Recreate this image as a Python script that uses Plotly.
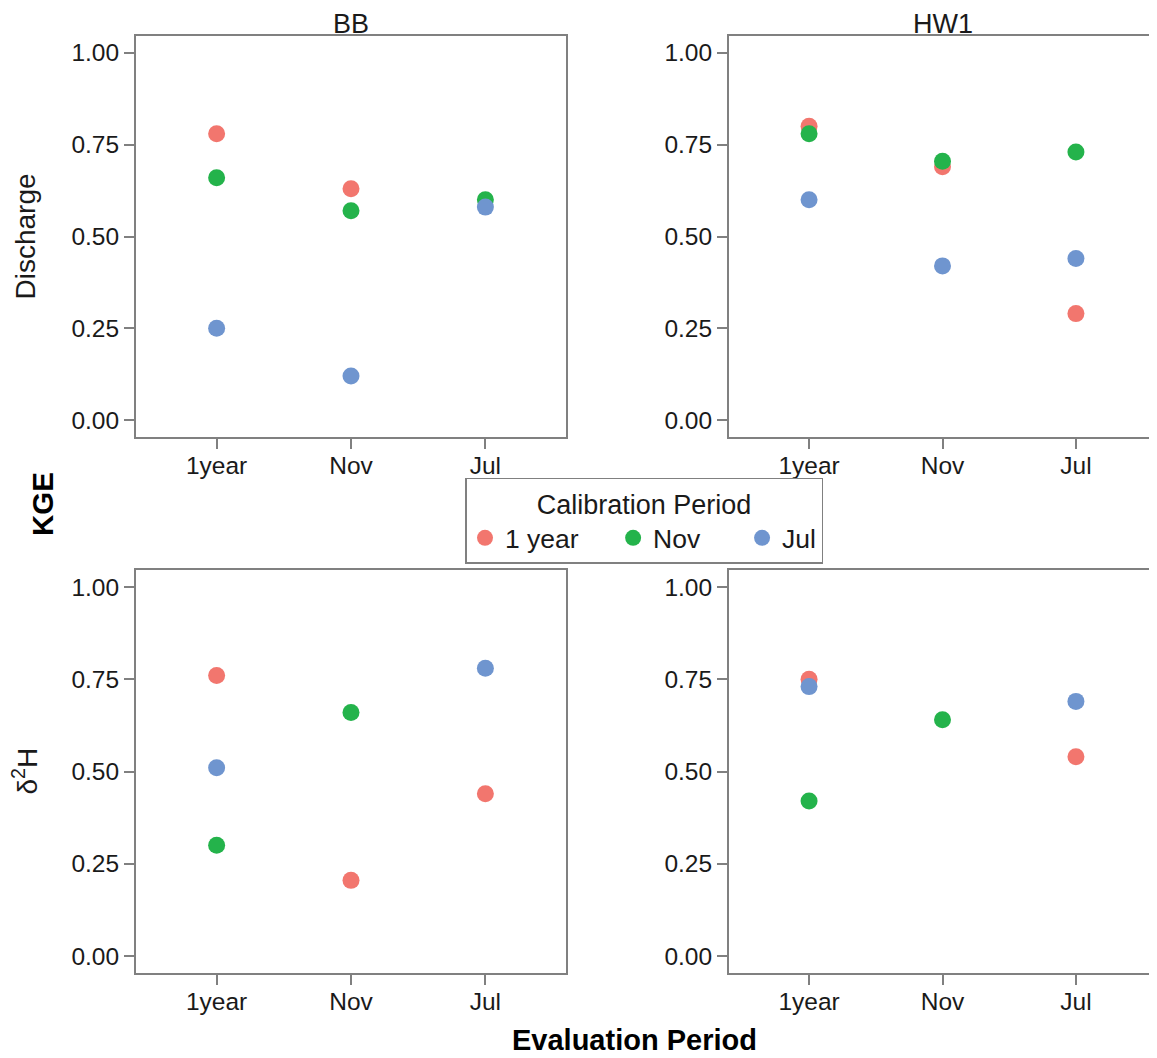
import plotly.graph_objects as go

eval_periods = ["1year", "Nov", "Jul"]
calib_labels = ["1 year", "Nov", "Jul"]
colors = ["#F2766E", "#24B34B", "#6F95CF"]
sites = ["BB", "HW1"]
variables = ["Discharge", "δ<sup>2</sup>H"]

bb_discharge_1year = [0.78, 0.63, None]
bb_discharge_nov = [0.66, 0.57, 0.60]
bb_discharge_jul = [0.25, 0.12, 0.58]

hw1_discharge_1year = [0.80, 0.69, 0.29]
hw1_discharge_nov = [0.78, 0.705, 0.73]
hw1_discharge_jul = [0.60, 0.42, 0.44]

bb_d2h_1year = [0.76, 0.205, 0.44]
bb_d2h_nov = [0.30, 0.66, None]
bb_d2h_jul = [0.51, None, 0.78]

hw1_d2h_1year = [0.75, None, 0.54]
hw1_d2h_nov = [0.42, 0.64, None]
hw1_d2h_jul = [0.73, None, 0.69]

y_ticks = [0.0, 0.25, 0.5, 0.75, 1.0]

panels = [
    (1, 1, [bb_discharge_1year, bb_discharge_nov, bb_discharge_jul]),
    (1, 2, [hw1_discharge_1year, hw1_discharge_nov, hw1_discharge_jul]),
    (2, 1, [bb_d2h_1year, bb_d2h_nov, bb_d2h_jul]),
    (2, 2, [hw1_d2h_1year, hw1_d2h_nov, hw1_d2h_jul]),
]

# page body has an 8px margin; design in reference pixels and shift
OFF = 8
W, H = 1149, 1050


def fx(px):
    return (px - OFF) / W


def fy(py):
    return 1 - (py - OFF) / H


xdom = {1: [fx(136), fx(566)], 2: [fx(729), fx(1156)]}
ydom = {1: [fy(437), fy(36)], 2: [fy(973), fy(570)]}

fig = go.Figure()
FONT = "Liberation Sans, Arial, sans-serif"
GRAY = "#808080"
TXT = "#1a1a1a"

legend_names = ["1 year" + "\u00a0" * 4, "Nov" + "\u00a0" * 5, "Jul"]

idx = 0
for row, col, series in panels:
    idx += 1
    xa = "x" if idx == 1 else f"x{idx}"
    ya = "y" if idx == 1 else f"y{idx}"
    for ci, vals in enumerate(series):
        fig.add_trace(go.Scatter(
            x=eval_periods, y=vals, mode="markers",
            marker=dict(color=colors[ci], size=17, line=dict(width=0)),
            name=legend_names[ci], legendgroup=calib_labels[ci],
            showlegend=(idx == 1), xaxis=xa, yaxis=ya,
        ))
    axis_common = dict(
        showgrid=False, zeroline=False, showline=True, linecolor=GRAY, linewidth=2,
        mirror=True, ticks="outside", tickcolor=GRAY, ticklen=10, tickwidth=2,
        tickfont=dict(family=FONT, size=24.5, color=TXT),
    )
    xkey = "xaxis" if idx == 1 else f"xaxis{idx}"
    ykey = "yaxis" if idx == 1 else f"yaxis{idx}"
    fig.update_layout(**{
        xkey: dict(axis_common, domain=xdom[col], anchor=ya, type="category",
                   categoryorder="array", categoryarray=eval_periods,
                   range=[-0.6, 2.6], fixedrange=True, ticklabelstandoff=-4),
        ykey: dict(axis_common, domain=ydom[row], anchor=xa, range=[-0.046, 1.046],
                   tickvals=y_ticks, tickformat=".2f"),
    })

annotations = []
for i, s in enumerate(sites):
    cx = (xdom[i + 1][0] + xdom[i + 1][1]) / 2
    annotations.append(dict(text=s, x=cx, y=fy(39.5), xref="paper", yref="paper",
                            showarrow=False, font=dict(family=FONT, size=27, color=TXT),
                            xanchor="center", yanchor="bottom", borderpad=0))
for r, v in zip([1, 2], variables):
    cy = (ydom[r][0] + ydom[r][1]) / 2
    annotations.append(dict(text=v, x=fx(25), y=cy, xref="paper", yref="paper",
                            showarrow=False, textangle=-90,
                            font=dict(family=FONT, size=28, color=TXT),
                            xanchor="center", yanchor="middle"))
annotations.append(dict(text="<b>KGE</b>", x=fx(43), y=fy(504), xref="paper", yref="paper",
                        showarrow=False, textangle=-90,
                        font=dict(family=FONT, size=29.5, color="#000000"),
                        xanchor="center", yanchor="middle"))
annotations.append(dict(text="<b>Evaluation Period</b>", x=fx(634), y=fy(1040),
                        xref="paper", yref="paper", showarrow=False,
                        font=dict(family=FONT, size=29, color="#000000"),
                        xanchor="center", yanchor="middle"))

fig.update_layout(
    width=W, height=H,
    margin=dict(l=0, r=0, t=0, b=0),
    paper_bgcolor="white", plot_bgcolor="white",
    annotations=annotations,
    showlegend=True,
    legend=dict(
        orientation="h", x=fx(644), y=fy(520.5), xanchor="center", yanchor="middle",
        title=dict(text="Calibration Period", side="top center",
                   font=dict(family=FONT, size=27, color=TXT)),
        font=dict(family=FONT, size=26.5, color=TXT),
        bordercolor=GRAY, borderwidth=1.5, bgcolor="white",
        itemsizing="trace",
    ),
)

fig.write_html("out.html")
